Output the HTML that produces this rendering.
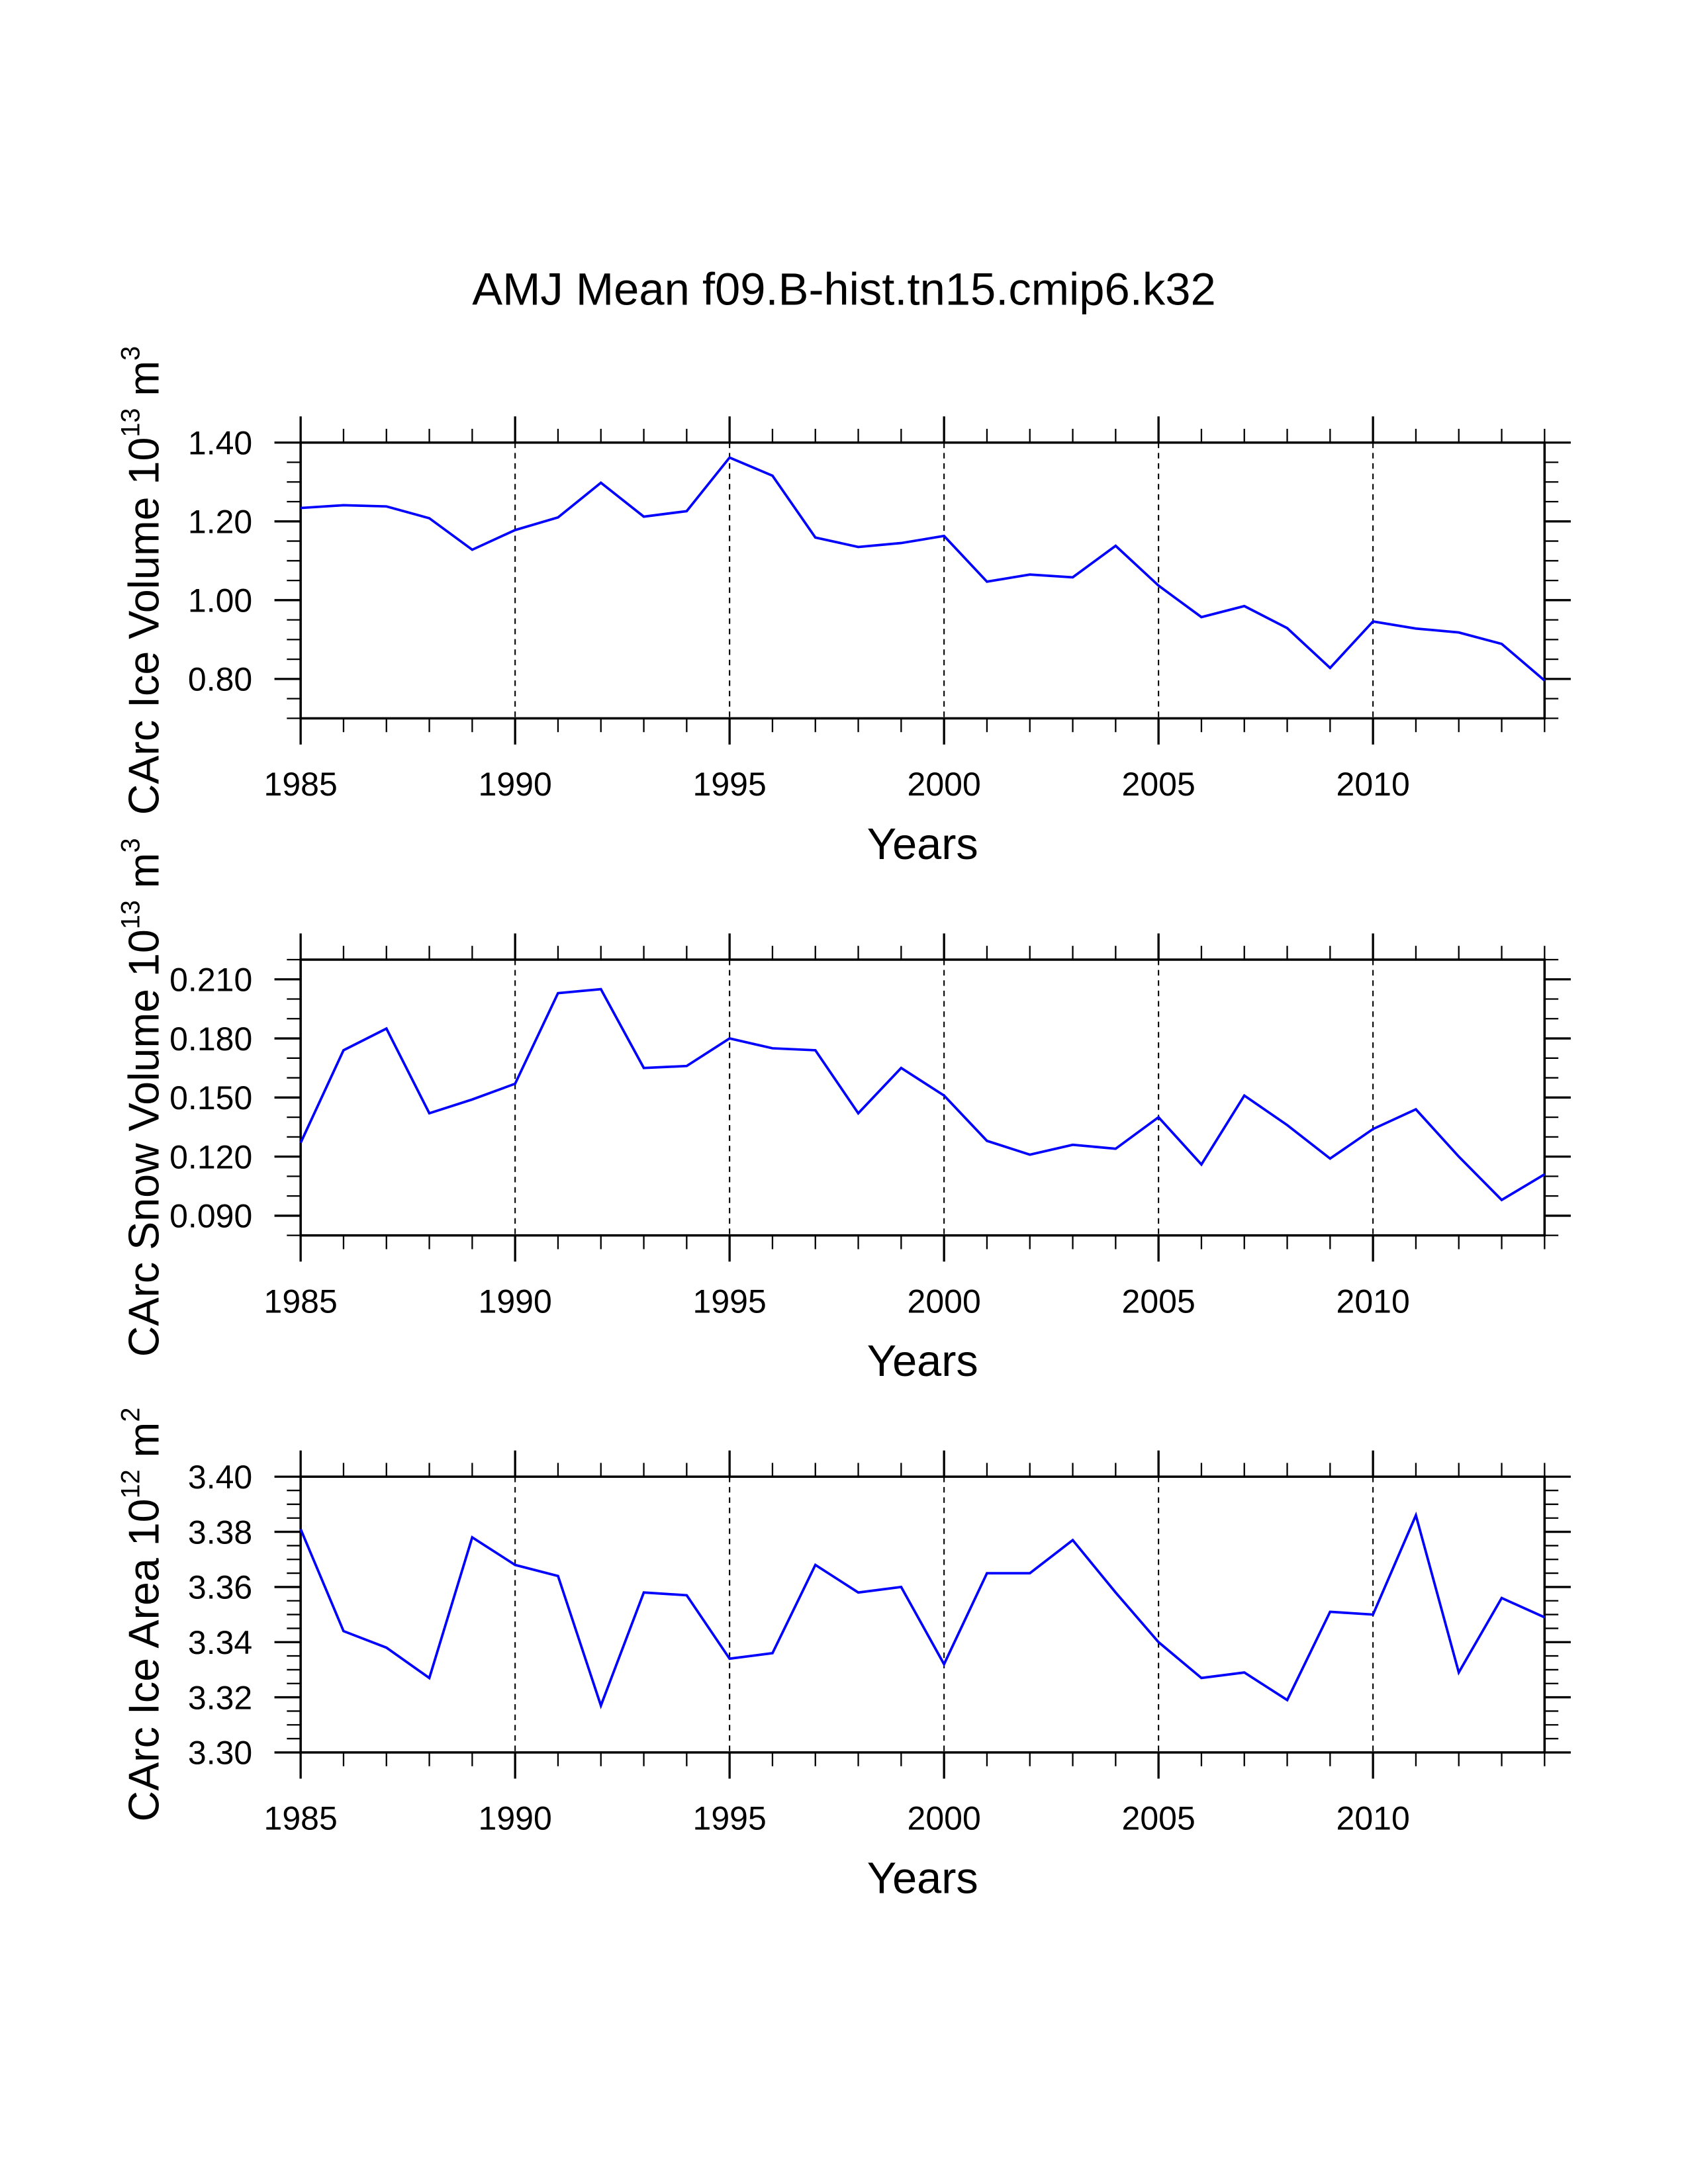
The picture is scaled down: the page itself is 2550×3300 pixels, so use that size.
<!DOCTYPE html>
<html><head><meta charset="utf-8"><style>
html,body{margin:0;padding:0;background:#fff;}
svg{display:block;}
text{font-family:"Liberation Sans",sans-serif;fill:#000;}
</style></head><body>
<svg id="chart" width="2550" height="3300" viewBox="0 0 1224 1584" xmlns="http://www.w3.org/2000/svg">
<text x="612" y="221" font-size="33" text-anchor="middle">AMJ Mean f09.B-hist.tn15.cmip6.k32</text>
</svg>
<script>
const years = [1985,1986,1987,1988,1989,1990,1991,1992,1993,1994,1995,1996,1997,1998,1999,2000,2001,2002,2003,2004,2005,2006,2007,2008,2009,2010,2011,2012,2013,2014];
const iceVolume = [1.234,1.241,1.238,1.208,1.128,1.178,1.210,1.298,1.212,1.226,1.362,1.316,1.159,1.135,1.145,1.163,1.047,1.065,1.058,1.138,1.037,0.957,0.985,0.929,0.828,0.946,0.928,0.918,0.889,0.796];
const snowVolume = [0.127,0.174,0.185,0.142,0.149,0.157,0.203,0.205,0.165,0.166,0.180,0.175,0.174,0.142,0.165,0.151,0.128,0.121,0.126,0.124,0.140,0.116,0.151,0.136,0.119,0.134,0.144,0.120,0.098,0.111];
const iceArea = [3.381,3.344,3.338,3.327,3.378,3.368,3.364,3.317,3.358,3.357,3.334,3.336,3.368,3.358,3.360,3.332,3.365,3.365,3.377,3.358,3.340,3.327,3.329,3.319,3.351,3.350,3.386,3.329,3.356,3.349];
const xTickLabels = ["1985","1990","1995","2000","2005","2010"];
const iceVolumeTicks = ["0.80","1.00","1.20","1.40"];
const snowVolumeTicks = ["0.090","0.120","0.150","0.180","0.210"];
const iceAreaTicks = ["3.30","3.32","3.34","3.36","3.38","3.40"];

const NS="http://www.w3.org/2000/svg";
const svg=document.getElementById('chart');
function mk(tag,attrs,parent){const e=document.createElementNS(NS,tag);for(const k in attrs)e.setAttribute(k,attrs[k]);(parent||svg).appendChild(e);return e;}

const L=218,R=1120,H=200;
const panels=[
 {top:321,data:iceVolume,ticks:iceVolumeTicks,ymin:0.70,ymax:1.40,minor:0.05,name:'ice-volume',title:['CArc Ice Volume 10','13',' m','3']},
 {top:696,data:snowVolume,ticks:snowVolumeTicks,ymin:0.08,ymax:0.22,minor:0.01,name:'snow-volume',title:['CArc Snow Volume 10','13',' m','3']},
 {top:1071,data:iceArea,ticks:iceAreaTicks,ymin:3.30,ymax:3.40,minor:0.005,name:'ice-area',title:['CArc Ice Area 10','12',' m','2']}
];
const x0=1985,x1=2014;
function xs(v){return L+(v-x0)/(x1-x0)*(R-L);}

panels.forEach(p=>{
 const T=p.top,B=T+H;
 const ys=v=>B-(v-p.ymin)/(p.ymax-p.ymin)*H;
 const g=mk('g',{});
 
 
 xTickLabels.forEach(t=>{const yv=+t;if(yv===x0)return;
  const l=mk('line',{x1:xs(yv),x2:xs(yv),y1:T,y2:B,stroke:'#000','stroke-width':1,'stroke-dasharray':'4 3.5'},g);
  
  
 });
 for(let yr=x0;yr<=x1;yr++){
  const major=(yr%5===0);const len=major?19:10;const w=major?1.6:1.1;
  mk('line',{x1:xs(yr),x2:xs(yr),y1:T,y2:T-len,stroke:'#000','stroke-width':w},g);
  mk('line',{x1:xs(yr),x2:xs(yr),y1:B,y2:B+len,stroke:'#000','stroke-width':w},g);
 }
 const n=Math.round((p.ymax-p.ymin)/p.minor);
 const majors=p.ticks.map(Number);
 for(let i=0;i<=n;i++){
  const v=p.ymin+i*p.minor;
  const major=majors.some(m=>Math.abs(m-v)<1e-6);
  const len=major?19:10,w=major?1.6:1.1;
  mk('line',{x1:L,x2:L-len,y1:ys(v),y2:ys(v),stroke:'#000','stroke-width':w},g);
  mk('line',{x1:R,x2:R+len,y1:ys(v),y2:ys(v),stroke:'#000','stroke-width':w},g);
 }
 const fr=mk('rect',{x:L,y:T,width:R-L,height:H,fill:'none',stroke:'#000','stroke-width':1.7},g);
 
 
 const pts=p.data.map((v,i)=>xs(years[i]).toFixed(2)+','+ys(v).toFixed(2)).join(' ');
 const pl=mk('polyline',{points:pts,fill:'none',stroke:'#0000ff','stroke-width':1.8,'stroke-linejoin':'miter'},g);
 
 
 p.ticks.forEach(t=>{
  const tx=mk('text',{x:183,y:ys(+t)+8.5,'font-size':24,'text-anchor':'end'},g);
  tx.textContent=t;
  
  
 });
 xTickLabels.forEach(t=>{
  const tx=mk('text',{x:xs(+t),y:B+56,'font-size':24,'text-anchor':'middle'},g);
  tx.textContent=t;
  
  
 });
 const xt=mk('text',{x:669,y:B+102,'font-size':32,'text-anchor':'middle'},g);
 xt.textContent='Years';
 
 
 const cy=T+H/2;
 const yt=mk('text',{x:0,y:0,'font-size':31,'text-anchor':'middle',transform:'translate(115,'+cy+') rotate(-90)'},g);
 
 
 p.title.forEach((s,i)=>{
  const ts=mk('tspan',i%2===1?{'font-size':19,dy:-14}:(i>0?{dy:14}:{}),yt);
  ts.textContent=s;
 });
});
</script>
</body></html>
